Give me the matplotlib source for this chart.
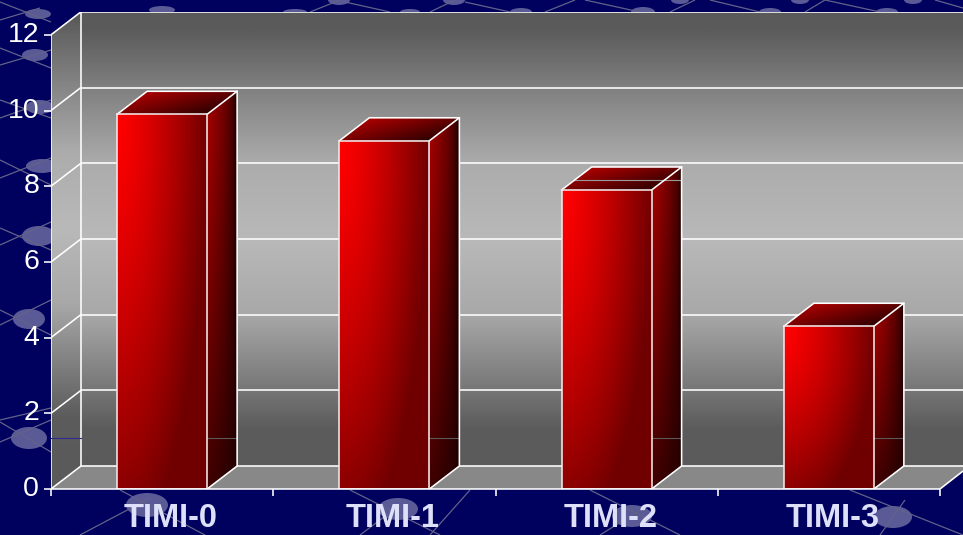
import numpy as np
import matplotlib
matplotlib.use("Agg")
import matplotlib.pyplot as plt
from matplotlib.patches import Polygon, Ellipse
from matplotlib.transforms import ScaledTranslation

categories = ["TIMI-0", "TIMI-1", "TIMI-2", "TIMI-3"]
values = [9.9, 9.2, 7.9, 4.3]
y_ticks = [0, 2, 4, 6, 8, 10, 12]

W, H = 963, 535
X0, Y0 = 51, 489          # front-left origin, pixels
PX_CAT, PX_VAL = 222.25, 37.85
DX, DY = 30 / PX_CAT, 23 / PX_VAL   # 3-D depth in data units
BAR_W = 90 / PX_CAT
WHITE = "#ffffff"
LW = 1.15

plt.rcParams["font.family"] = ["Liberation Sans"]
fig = plt.figure(figsize=(W / 100, H / 100), dpi=100, facecolor="#00005e")

# ---- decorative background in pixel coordinates ----
bg = fig.add_axes([0, 0, 1, 1], zorder=0)
bg.set_xlim(0, W); bg.set_ylim(H, 0); bg.axis("off")
net = [((0, 20), (40, 8)), ((0, 65), (51, 50)), ((0, 2), (51, 22)), ((0, 48), (51, 68)),
       ((0, 118), (51, 100)), ((0, 100), (51, 118)), ((0, 178), (51, 158)), ((0, 160), (51, 185)),
       ((0, 245), (51, 222)), ((0, 228), (51, 250)), ((0, 325), (51, 300)), ((0, 310), (51, 335)),
       ((0, 420), (51, 408)), ((0, 442), (51, 420)), ((0, 422), (51, 452)),
       ((80, 535), (150, 498)), ((120, 490), (205, 535)), ((360, 535), (400, 505)),
       ((350, 490), (440, 535)), ((600, 535), (640, 510)), ((590, 490), (680, 535)),
       ((880, 535), (905, 500)), ((850, 490), (963, 535)), ((430, 535), (470, 490)),
       ((310, 12), (340, 0)), ((345, 2), (390, 12)), ((430, 12), (455, 0)),
       ((465, 2), (510, 12)), ((545, 12), (575, 0)), ((585, 0), (640, 12)), ((670, 12), (695, 0)),
       ((710, 0), (760, 12)), ((805, 12), (825, 0)), ((825, 0), (880, 12)), ((935, 0), (963, 8))]
for (a, b) in net:
    bg.plot([a[0], b[0]], [a[1], b[1]], color="#62628a", lw=0.9, solid_capstyle="butt")
spots = [(38, 14, 13, 5), (35, 55, 13, 6), (40, 107, 14, 7), (42, 166, 16, 7), (39, 236, 17, 10),
         (29, 319, 16, 10), (29, 438, 18, 11), (147, 505, 21, 12), (398, 509, 20, 11),
         (632, 516, 20, 11), (893, 517, 19, 11), (162, 10, 13, 4), (295, 12, 12, 3),
         (339, 0, 11, 5), (410, 12, 10, 3), (454, 0, 11, 5), (521, 12, 11, 4), (643, 12, 12, 5),
         (680, 0, 9, 4), (770, 12, 11, 4), (800, 0, 9, 4), (887, 12, 11, 4), (913, 0, 9, 4)]
for (x, y, rx, ry) in spots:
    bg.add_patch(Ellipse((x, y), 2 * rx, 2 * ry, fc="#5a5a96", ec="none"))

# ---- chart axes: the rectangle spanned by the origin and the top of the back wall ----
TOP_PX = 12
ax = fig.add_axes([X0 / W, (H - Y0) / H, (W - X0) / W, (Y0 - TOP_PX) / H], zorder=1)
ax.patch.set_alpha(0)
xmin, xmax = -0.5, -0.5 + (W - X0) / PX_CAT
ymin, ymax = 0, (Y0 - TOP_PX) / PX_VAL
for s in ax.spines.values():
    s.set_visible(False)


def gradient(rgb_fn, poly, extent, z, n=200):
    """Fill polygon with an image computed on the bounding box (u right, v down)."""
    u, v = np.meshgrid(np.linspace(0, 1, n), np.linspace(0, 1, n))
    im = ax.imshow(rgb_fn(u, v), extent=extent, origin="upper", aspect="auto",
                   zorder=z, interpolation="bilinear")
    p = Polygon(poly, closed=True, transform=ax.transData, fc="none", ec="none")
    ax.add_patch(p)
    im.set_clip_path(p)


# walls and floor
back_stops = [0, 0.4, 2.0, 4.0, 6.0, 8.0, 10.0, 11.0, 12.6]
back_grey = [0x5a, 0x5a, 0x80, 0xac, 0xb9, 0xa8, 0x76, 0x5c, 0x5a]
wall_v = np.array(back_stops)
back_fn = lambda u, v: np.dstack([np.interp(v * ymax, wall_v, back_grey) / 255] * 3)
gradient(back_fn, [(xmin + DX, DY), (xmax, DY), (xmax, ymax), (xmin + DX, ymax)],
         (xmin, xmax, ymin, ymax), 1)
left_fn = lambda u, v: np.dstack([np.interp(v * ymax, wall_v - 0.3, back_grey) / 255] * 3)
gradient(left_fn, [(xmin, 0), (xmin + DX, DY), (xmin + DX, ymax), (xmin, 12)],
         (xmin, xmax, ymin, ymax), 1)
xfront = xmin + 4
ax.add_patch(Polygon([(xmin, 0), (xmin + DX, DY), (xmax, DY), (xmax, DY * 0.78), (xfront, 0)],
                     fc="#888888", ec="none", zorder=1.5))

# frame and gridlines
ln = dict(color=WHITE, lw=LW, solid_capstyle="butt", zorder=2)
for t in y_ticks:
    ax.plot([xmin, xmin + DX], [t, t + DY], **ln)
    ax.plot([xmin + DX, xmax], [t + DY, t + DY], **ln)
ax.plot([xmin, xmin], [0, 12], **ln)
ax.plot([xmin + DX, xmin + DX], [DY, 12 + DY], **ln)
ax.plot([xfront, xmax], [0, DY * 0.78], **ln)
ax.plot([xmin, xfront], [0, 0], color=WHITE, lw=LW, zorder=4, solid_capstyle="butt", clip_on=False)
ax.plot([xmin, xmin + DX], [1.34, 1.34], color="#2a2a90", lw=0.8, zorder=2)


# bars
def front_fn(u, v):
    t = np.clip(np.sqrt(u ** 2 + (v * 0.85) ** 2), 0, 1) ** 1.3
    r = 1 - 0.56 * t
    return np.dstack([r, 0 * r, 0 * r])


def side_fn(u, v):
    top = 0.62 * (1 - u) ** 0.5 + 0.03
    low = 0.12 * (1 - u) + 0.13
    k = v ** 1.2
    r = top * (1 - k) + low * k
    return np.dstack([r, 0 * r, 0 * r])


def top_fn(u, v):
    r = np.clip(0.78 - 0.4 * u - 0.3 * v, 0.2, 1)
    return np.dstack([r, 0 * r, 0 * r])


for i, val in enumerate(values):
    l, r = i - BAR_W / 2, i + BAR_W / 2
    gradient(front_fn, [(l, 0), (r, 0), (r, val), (l, val)], (l, r, 0, val), 3)
    gradient(side_fn, [(r, 0), (r + DX, DY), (r + DX, val + DY), (r, val)],
             (r, r + DX, 0, val + DY), 3)
    gradient(top_fn, [(l, val), (r, val), (r + DX, val + DY), (l + DX, val + DY)],
             (l, r + DX, val, val + DY), 3)
    ax.plot([r, r + DX], [1.34, 1.34], color="#5a5a5a", lw=0.8, zorder=3.2)
    if i == 2:
        ax.plot([l + 0.04, r + DX], [8 + DY - 0.45, 8 + DY - 0.45], color="#9a9a9a", lw=0.8, zorder=3.2)
    ax.plot([l, r, r, l, l], [0, 0, val, val, 0], color="#f4e8e8", lw=LW, zorder=3.5, solid_joinstyle="miter")
    ax.plot([l, l + DX, r + DX, r], [val, val + DY, val + DY, val], color=WHITE, lw=LW, zorder=3.4)
    ax.plot([r + DX, r + DX, r], [val + DY, DY, 0], color=WHITE, lw=LW, zorder=3.4)

ax.set_xlim(xmin, xmax)
ax.set_ylim(ymin, ymax)

# real ticks
ax.set_yticks(y_ticks)
ax.tick_params(axis="y", colors=WHITE, length=5, width=LW, pad=3.5, labelsize=20.5)
for lab in ax.get_yticklabels():
    lab.set_transform(lab.get_transform() + ScaledTranslation(0, 3 / 100, fig.dpi_scale_trans))
ax.set_xticks(np.arange(-0.5, 4, 1))
ax.tick_params(axis="x", which="major", colors=WHITE, length=5, width=LW, labelbottom=False)
ax.set_xticks(np.arange(4) + np.array([0.036, 0.036, 0.02, 0.018]), labels=categories, minor=True)
ax.tick_params(axis="x", which="minor", length=0, pad=9.8, labelsize=23.5, labelcolor="#dde0f8")
for lab in ax.get_xticklabels(minor=True):
    lab.set_fontweight("bold")

fig.savefig("out.png", dpi=100, facecolor=fig.get_facecolor())
